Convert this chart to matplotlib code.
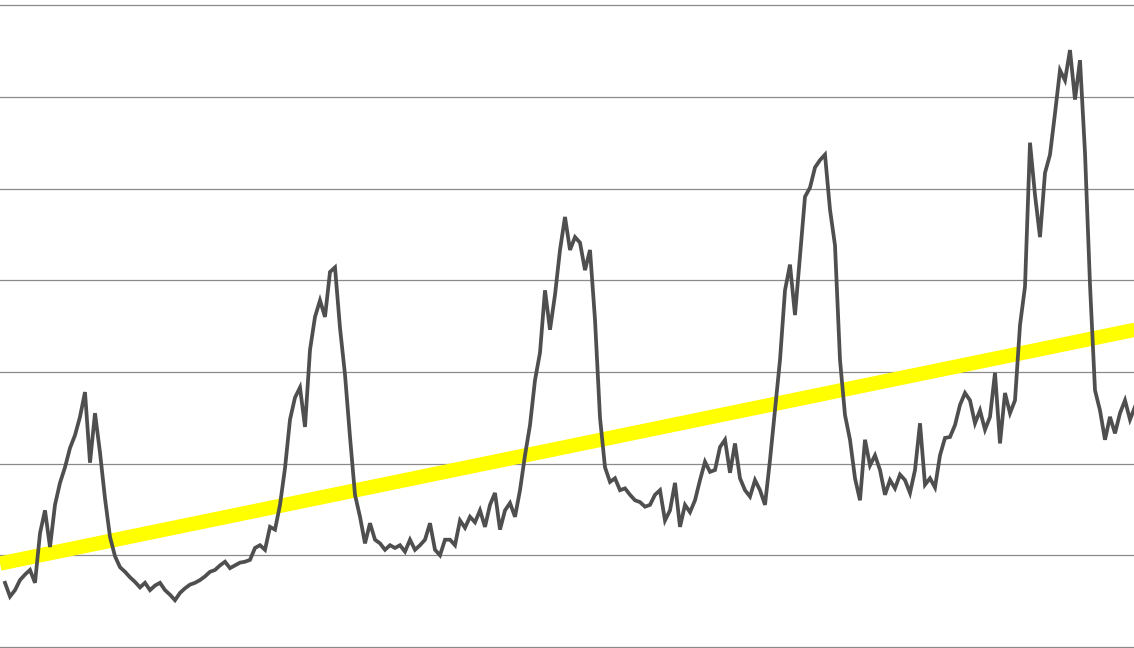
import numpy as np
import matplotlib
matplotlib.use("Agg")
import matplotlib.pyplot as plt

# Series values (arbitrary units, gridlines every 10)
values = [
    7.0, 5.5, 6.2, 7.3, 7.9, 8.4, 7.0, 12.4, 14.9, 10.9,
    15.5, 17.9, 19.6, 21.7, 23.1, 25.1, 27.8, 20.1, 25.5, 21.2,
    16.2, 12.0, 9.9, 8.7, 8.2, 7.6, 7.1, 6.5, 7.0, 6.2,
    6.7, 7.0, 6.2, 5.7, 5.1, 5.9, 6.4, 6.8, 7.0, 7.3,
    7.7, 8.2, 8.4, 8.9, 9.3, 8.6, 8.9, 9.2, 9.3, 9.5,
    10.8, 11.1, 10.6, 13.1, 12.8, 15.5, 19.5, 24.8, 27.2, 28.3,
    24.0, 32.4, 36.0, 37.8, 36.0, 40.9, 41.4, 34.8, 29.7, 22.9,
    16.6, 14.2, 11.3, 13.5, 11.7, 11.3, 10.6, 11.1, 10.8, 11.1,
    10.4, 11.7, 10.6, 11.1, 11.7, 13.5, 10.6, 10.0, 11.7, 11.7,
    11.1, 13.8, 13.0, 14.2, 13.6, 14.9, 13.1, 15.5, 16.8, 12.8,
    14.9, 15.7, 14.2, 17.1, 20.9, 24.2, 29.1, 32.1, 38.9, 34.6,
    38.4, 43.3, 46.9, 43.3, 44.7, 44.1, 41.1, 43.3, 35.7, 25.0,
    19.6, 18.0, 18.4, 17.1, 17.3, 16.6, 16.0, 15.8, 15.3, 15.5,
    16.6, 17.1, 13.8, 14.9, 17.9, 13.1, 15.5, 14.7, 16.0, 18.2,
    20.2, 19.1, 19.3, 21.8, 22.6, 19.0, 22.2, 18.4, 17.1, 16.4,
    18.2, 17.1, 15.5, 20.4, 25.8, 31.3, 38.9, 41.7, 36.2, 42.7,
    49.1, 50.1, 52.3, 53.1, 53.7, 47.7, 43.8, 31.3, 25.3, 22.6,
    18.4, 16.0, 22.6, 19.8, 20.9, 19.3, 16.6, 18.2, 17.3, 18.8,
    18.2, 16.8, 19.3, 24.4, 17.7, 18.4, 17.4, 20.9, 22.8, 22.9,
    24.2, 26.4, 27.7, 26.9, 24.4, 25.8, 23.7, 25.1, 29.9, 22.2,
    27.7, 25.5, 26.9, 35.1, 39.3, 55.0, 49.3, 44.7, 51.7, 53.7,
    58.2, 62.9, 61.8, 65.1, 59.7, 64.0, 53.9, 39.5, 28.0, 25.8,
    22.6, 25.1, 23.3, 25.5, 26.9, 24.8, 26.2,
]

# Trend line endpoints
trend_x = [-1, 226]
trend_y = [9.1, 34.6]

grid_levels = [0, 10, 20, 30, 40, 50, 60, 70]

fig = plt.figure(figsize=(11.34, 6.48), dpi=100)
ax = fig.add_axes([0, 0, 1, 1])
ax.set_xlim(-1, 225.8)
ax.set_ylim(-0.11, 70.56)

for g in grid_levels:
    ax.axhline(g, color="#8a8a8a", lw=0.9, zorder=1)

ax.plot(trend_x, trend_y, color="#ffff00", lw=10.3, solid_capstyle="butt", zorder=2)
ax.plot(np.arange(len(values)), values, color="#4f4f4f", lw=2.7,
        solid_joinstyle="miter", zorder=3)

ax.axis("off")
fig.savefig("out.png", dpi=100, facecolor="white")
